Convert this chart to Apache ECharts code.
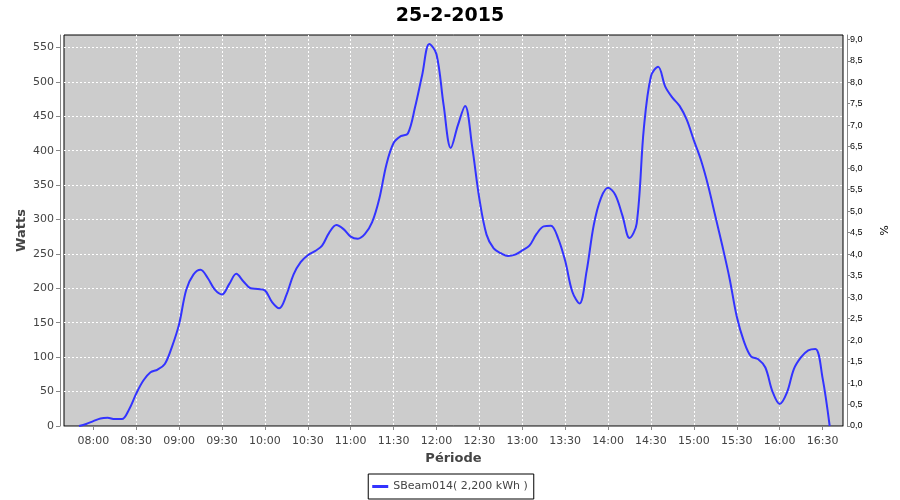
<!DOCTYPE html>
<html>
<head>
<meta charset="utf-8">
<script src="https://cdn.jsdelivr.net/npm/echarts@6/dist/echarts.min.js"></script>
<style>html,body{margin:0;padding:0;background:#fff}#c{width:900px;height:500px}</style>
</head>
<body>
<div id="c"></div>
<script>
const times = ["07:50","07:55","08:00","08:05","08:10","08:15","08:20","08:25","08:30","08:35","08:40","08:45","08:50","08:55",
"09:00","09:05","09:10","09:15","09:20","09:25","09:30","09:35","09:40","09:45","09:50","09:55",
"10:00","10:05","10:10","10:15","10:20","10:25","10:30","10:35","10:40","10:45","10:50","10:55",
"11:00","11:05","11:10","11:15","11:20","11:25","11:30","11:35","11:40","11:45","11:50","11:55",
"12:00","12:05","12:10","12:15","12:20","12:25","12:30","12:35","12:40","12:45","12:50","12:55",
"13:00","13:05","13:10","13:15","13:20","13:25","13:30","13:35","13:40","13:45","13:50","13:55",
"14:00","14:05","14:10","14:15","14:20","14:25","14:30","14:35","14:40","14:45","14:50","14:55",
"15:00","15:05","15:10","15:15","15:20","15:25","15:30","15:35","15:40","15:45","15:50","15:55",
"16:00","16:05","16:10","16:15","16:20","16:25","16:30","16:35"];
const watts = [0,3,7,11,12,10,10,24,47,66,78,82,90,115,
148,198,220,227,215,198,191,206,221,210,200,199,
197,180,171,190,220,238,248,254,262,281,292,286,
275,272,279,296,330,380,411,421,425,463,510,555,
540,466,404,437,465,405,330,278,258,251,247,249,
255,262,279,290,291,273,240,195,178,225,292,331,
346,336,306,273,294,432,508,522,493,477,465,445,
415,386,349,305,261,214,159,123,101,97,85,50,
32,48,83,100,110,112,70,0];
const xTickLabels = ["08:00","08:30","09:00","09:30","10:00","10:30","11:00","11:30","12:00","12:30","13:00","13:30","14:00","14:30","15:00","15:30","16:00","16:30"];
const seriesName = "SBeam014( 2,200 kWh )";
const title = "25-2-2015";

const toMin = s => { const p = s.split(':'); return +p[0]*60 + +p[1]; };
const pad = n => String(n).padStart(2,'0');
const fmt = m => pad(Math.floor(m/60)) + ':' + pad(Math.round(m%60));
const data = times.map((t,i)=>[toMin(t), watts[i]]);
const tickVals = xTickLabels.map(toMin);

const chart = echarts.init(document.getElementById('c'));
const lblColor = '#444';
const axisGray = '#888';
chart.setOption({
  animation:false,
  backgroundColor:'#fff',
  title:{text:title, left:'center', top:2, textStyle:{fontFamily:'DejaVu Sans', fontWeight:'bold', fontSize:19, color:'#000'}},
  legend:{bottom:1, left:'center', data:[seriesName], icon:'rect', itemWidth:16, itemHeight:3, itemGap:4,
    borderColor:'#000', borderWidth:1, padding:[7,6,7,4], borderRadius:0,
    textStyle:{fontFamily:'DejaVu Sans', fontSize:11, color:lblColor}},
  grid:{left:64, right:57, top:35, bottom:74, show:true, backgroundColor:'#cccccc', borderColor:'#000', borderWidth:1, containLabel:false},
  xAxis:{type:'value', min:459.5, max:1004.3, offset:4,
    name:'Période', nameLocation:'middle', nameGap:22, nameMoveOverlap:false,
    nameTextStyle:{fontFamily:'DejaVu Sans', fontWeight:'bold', fontSize:13, color:lblColor},
    axisLine:{show:true, lineStyle:{color:axisGray}},
    axisTick:{show:true, length:4, lineStyle:{color:axisGray}, customValues:tickVals},
    axisLabel:{customValues:tickVals, formatter:v=>fmt(v), fontFamily:'DejaVu Sans', fontSize:11, color:lblColor, margin:6},
    splitLine:{show:true, showMinLine:false, showMaxLine:false, lineStyle:{color:'#fff', type:[2,2], width:1}}},
  yAxis:[
    {type:'value', min:0, max:568, interval:50, offset:4,
      name:'Watts', nameLocation:'middle', nameGap:32, nameMoveOverlap:false,
      nameTextStyle:{fontFamily:'DejaVu Sans', fontWeight:'bold', fontSize:13, color:lblColor},
      axisLine:{show:true, lineStyle:{color:axisGray}},
      axisTick:{show:true, length:4, lineStyle:{color:axisGray}},
      axisLabel:{showMaxLabel:false, fontFamily:'DejaVu Sans', fontSize:11, color:lblColor, margin:6},
      splitLine:{show:true, showMinLine:false, showMaxLine:false, lineStyle:{color:'#fff', type:[2,2], width:1}}},
    {type:'value', min:0, max:9.1, interval:0.5, offset:4, position:'right',
      name:'%', nameLocation:'middle', nameGap:30, nameRotate:-90, nameMoveOverlap:false,
      nameTextStyle:{fontFamily:'DejaVu Sans', fontSize:11, color:'#000'},
      axisLine:{show:true, lineStyle:{color:axisGray}},
      axisTick:{show:true, length:3, lineStyle:{color:axisGray}},
      axisLabel:{showMaxLabel:false, formatter:v=>v.toFixed(1).replace('.',','), fontFamily:'Liberation Sans', fontSize:9, color:'#000', margin:3},
      splitLine:{show:false}}
  ],
  series:[{name:seriesName, type:'line', data:data, smooth:0.35, showSymbol:false, yAxisIndex:0,
    lineStyle:{color:'#3333ff', width:2}, itemStyle:{color:'#3333ff'}}]
});
</script>
</body>
</html>
